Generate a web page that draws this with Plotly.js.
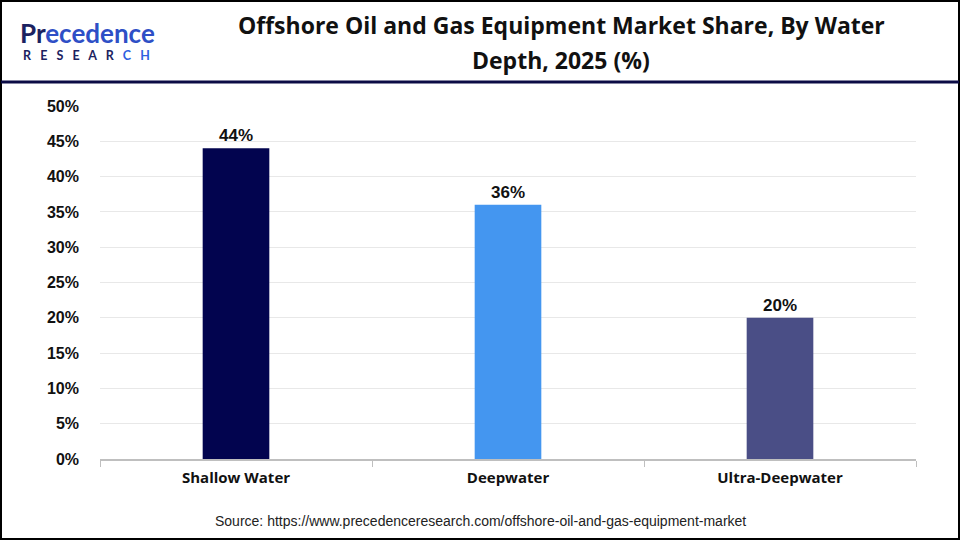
<!DOCTYPE html>
<html>
<head>
<meta charset="utf-8">
<script src="https://cdn.plot.ly/plotly-3.0.1.min.js"></script>
<style>html,body{margin:0;padding:0;background:#fff;}#chart{width:960px;height:540px;}</style>
</head>
<body>
<div id="chart"></div>
<script>
const categories = ["Shallow Water", "Deepwater", "Ultra-Deepwater"];
const shares = [44, 36, 20];
const barColors = ["#02044F", "#4496F0", "#4A4E86"];
const yTicks = [0, 5, 10, 15, 20, 25, 30, 35, 40, 45, 50];
const titleLines = ["Offshore Oil and Gas Equipment Market Share, By Water", "Depth, 2025 (%)"];
const sourceText = "Source: https://www.precedenceresearch.com/offshore-oil-and-gas-equipment-market";

const W = 960, H = 540, L = 100, R = 44, T = 106, B = 81;
const pw = W - L - R, ph = H - T - B;
const px = x => (x - L) / pw;
const py = y => (H - B - y) / ph;
const gap = "\u00A0\u00A0\u00A0";

const trace = {
  type: "bar",
  x: categories,
  y: shares,
  marker: {color: barColors},
  width: 0.245,
  text: shares.map(v => v + "%"),
  textposition: "outside",
  cliponaxis: false,
  textfont: {family: "Liberation Sans, Arial, sans-serif", size: 17, color: "#111"},
  texttemplate: "<b>%{text}</b>",
  hoverinfo: "none"
};

const titleFont = {family: "Open Sans, sans-serif", size: 23, color: "#111"};

const layout = {
  width: W, height: H,
  margin: {l: L, r: R, t: T, b: B},
  paper_bgcolor: "#fff",
  plot_bgcolor: "#fff",
  showlegend: false,
  xaxis: {
    type: "category",
    showline: true, linecolor: "#BFBFBF", linewidth: 2,
    ticks: "outside", tickson: "boundaries", ticklen: 6, tickcolor: "#BFBFBF", tickwidth: 1,
    tickfont: {family: "Open Sans, sans-serif", size: 15, color: "#111", weight: "bold"},
    ticklabelstandoff: 4,
    showgrid: false, fixedrange: true
  },
  yaxis: {
    range: [0, 50],
    tickvals: yTicks,
    ticktext: yTicks.map(v => "<b>" + v + "%</b>"),
    tickfont: {family: "Liberation Sans, Arial, sans-serif", size: 16, color: "#111"},
    showgrid: true, gridcolor: "#E8E8E8", gridwidth: 1,
    zeroline: false, showline: false, ticks: "",
    ticklabelstandoff: 20, fixedrange: true
  },
  shapes: [
    {type: "rect", xref: "paper", yref: "paper", x0: px(1), x1: px(959), y0: py(539), y1: py(1),
     line: {color: "#000", width: 2}, fillcolor: "rgba(0,0,0,0)", layer: "above"},
    {type: "line", xref: "paper", yref: "paper", x0: px(1), x1: px(959), y0: py(82), y1: py(82),
     line: {color: "#0B0B45", width: 3}}
  ],
  annotations: [
    {xref: "paper", yref: "paper", x: px(561), y: py(25), xanchor: "center", yanchor: "middle", showarrow: false,
     text: "<b>" + titleLines[0] + "</b>", font: titleFont},
    {xref: "paper", yref: "paper", x: px(561), y: py(60), xanchor: "center", yanchor: "middle", showarrow: false,
     text: "<b>" + titleLines[1] + "</b>", font: titleFont},
    {xref: "paper", yref: "paper", x: px(18), y: py(33), xanchor: "left", yanchor: "middle", showarrow: false,
     text: "<b><span style='color:#1B2260'>Pr</span><span style='color:#2E4FC6'>ecedence</span></b>",
     font: {family: "Lato, sans-serif", size: 26, color: "#1B2260"}},
    {xref: "paper", yref: "paper", x: px(21), y: py(55), xanchor: "left", yanchor: "middle", showarrow: false,
     text: "<b><span style='color:#1B2260'>" + ["R","E","S","E","A","R"].join(gap) + gap + "</span><span style='color:#2E5FE0'>C" + gap + "H</span></b>",
     font: {family: "Lato, sans-serif", size: 12.5, color: "#1B2260"}},
    {xref: "paper", yref: "paper", x: px(480), y: py(521), xanchor: "center", yanchor: "middle", showarrow: false,
     text: sourceText,
     font: {family: "Liberation Sans, Arial, sans-serif", size: 14, color: "#222"}}
  ]
};

Plotly.newPlot("chart", [trace], layout, {staticPlot: true, displayModeBar: false});
</script>
</body>
</html>
